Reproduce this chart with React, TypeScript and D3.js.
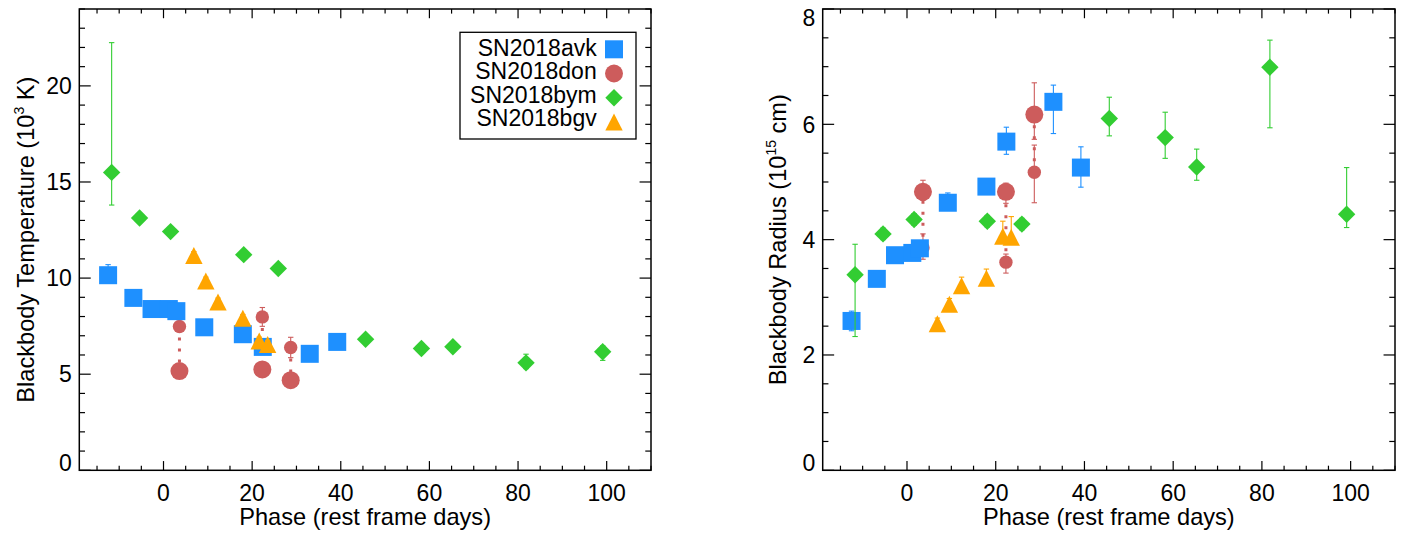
import React from "react";
import * as d3 from "d3";

// ---------- data ----------
const avkPhase = [-12.5, -6.8, -2.7, 1.2, 2.9, 9.2, 17.9, 22.4, 33.0, 39.2];
const avkTemp = [10.15, 8.97, 8.39, 8.39, 8.28, 7.44, 7.08, 6.42, 6.06, 6.68];
const avkTempUp = [0.55, 0.3, 0.3, 0.3, 0.3, 0.3, 0.3, 0.3, 0.3, 0.3];
const avkTempDn = [0.3, 0.3, 0.3, 0.3, 0.3, 0.3, 0.3, 0.3, 0.3, 0.3];
const avkRadius = [2.59, 3.32, 3.73, 3.77, 3.85, 4.64, 4.92, 5.7, 6.39, 5.25];
const avkRadUp = [0.17, 0.1, 0.08, 0.08, 0.08, 0.17, 0.1, 0.25, 0.29, 0.36];
const avkRadDn = [0.17, 0.1, 0.08, 0.08, 0.08, 0.1, 0.1, 0.22, 0.55, 0.34];

const donPhase = [3.6, 22.3, 28.7];
const donTempSmall = [7.48, 7.98, 6.39];
const donTempSmallErr = [0.2, 0.49, 0.53];
const donTempLarge = [5.16, 5.25, 4.69];
const donTempLargeErr = [0.2, 0.2, 0.2];
const donRadLarge = [4.83, 4.83, 6.17];
const donRadLargeUp = [0.2, 0.15, 0.55];
const donRadLargeDn = [0.15, 0.2, 0.43];
const donRadSmall = [3.86, 3.61, 5.17];
const donRadSmallUp = [0.24, 0.14, 0.47];
const donRadSmallDn = [0.2, 0.19, 0.53];

const bymPhase = [-11.7, -5.4, 1.6, 18.1, 25.9, 45.6, 58.2, 65.3, 81.8, 99.1];
const bymTemp = [15.5, 13.13, 12.42, 11.22, 10.5, 6.82, 6.34, 6.43, 5.59, 6.17];
const bymTempUp = [6.75, 0.2, 0.2, 0.2, 0.2, 0.2, 0.2, 0.2, 0.45, 0.3];
const bymTempDn = [1.7, 0.2, 0.2, 0.2, 0.2, 0.2, 0.2, 0.2, 0.3, 0.45];
const bymRadius = [3.39, 4.1, 4.35, 4.32, 4.27, 6.1, 5.77, 5.26, 6.99, 4.44];
const bymRadUp = [0.53, 0.1, 0.1, 0.1, 0.1, 0.37, 0.44, 0.31, 0.47, 0.81];
const bymRadDn = [1.07, 0.1, 0.1, 0.1, 0.1, 0.3, 0.36, 0.23, 1.05, 0.23];

const bgvPhase = [6.85, 9.55, 12.3, 17.9, 21.6, 23.5];
const bgvTemp = [11.18, 9.85, 8.76, 7.91, 6.73, 6.54];
const bgvTempErr = [0.2, 0.2, 0.2, 0.2, 0.2, 0.2];
const bgvRadius = [2.54, 2.88, 3.2, 3.33, 4.06, 4.04];
const bgvRadUp = [0.1, 0.1, 0.15, 0.16, 0.26, 0.36];
const bgvRadDn = [0.1, 0.1, 0.1, 0.1, 0.1, 0.1];

const legendNames = ["SN2018avk", "SN2018don", "SN2018bym", "SN2018bgv"];
const xMajorTicks = [0, 20, 40, 60, 80, 100];
const tempMajorTicks = [0, 5, 10, 15, 20];
const radMajorTicks = [0, 2, 4, 6, 8];

const BLUE = "#1E90FF";
const RED = "#CD5C5C";
const GREEN = "#32CD32";
const ORANGE = "#FFA500";
const FONT = "'Liberation Sans', Arial, Helvetica, sans-serif";

type Shape = "square" | "circle" | "smallcircle" | "diamond" | "triangle";

function Marker({ shape, x, y, color }: { shape: Shape; x: number; y: number; color: string }) {
  if (shape === "square") return <rect x={x - 9} y={y - 9} width={18} height={18} fill={color} />;
  if (shape === "circle") return <circle cx={x} cy={y} r={9} fill={color} />;
  if (shape === "smallcircle") return <circle cx={x} cy={y} r={6.7} fill={color} />;
  if (shape === "diamond")
    return <path d={`M${x},${y - 8.7}L${x + 8.7},${y}L${x},${y + 8.7}L${x - 8.7},${y}Z`} fill={color} />;
  return <path d={`M${x},${y - 8.5}L${x + 8.7},${y + 8.5}L${x - 8.7},${y + 8.5}Z`} fill={color} />;
}

function ErrBar({ x, y1, y2, color }: { x: number; y1: number; y2: number; color: string }) {
  return (
    <g stroke={color} strokeWidth={1.1}>
      <line x1={x} x2={x} y1={y1} y2={y2} />
      <line x1={x - 2.7} x2={x + 2.7} y1={y1} y2={y1} />
      <line x1={x - 2.7} x2={x + 2.7} y1={y2} y2={y2} />
    </g>
  );
}

interface Series {
  phase: number[];
  val: number[];
  up: number[];
  dn: number[];
  shape: Shape;
  color: string;
}

interface PanelProps {
  left: number;
  right: number;
  yMax: number;
  yMajor: number[];
  yMinorStep: number;
  titleX: number;
  titleMain: string;
  titleSup: string;
  titleEnd: string;
  pairs: { phase: number[]; a: number[]; b: number[] };
  series: Series[];
  legend?: boolean;
}

const TOP = 9;
const BOTTOM = 470.3;

function Panel(p: PanelProps) {
  const x = d3.scaleLinear().domain([-19, 110]).range([p.left, p.right]);
  const y = d3.scaleLinear().domain([0, p.yMax]).range([BOTTOM, TOP]);
  const xMinor = d3.range(-15, 111, 5).filter((v) => !xMajorTicks.includes(v));
  const yMinor = d3.range(0, p.yMax + 1e-6, p.yMinorStep).filter((v) => !p.yMajor.some((m) => Math.abs(m - v) < 1e-6));
  const w = p.right - p.left;
  const h = BOTTOM - TOP;
  const xl = 0.02 * h;
  const yl = 0.02 * w;
  const cx = (p.left + p.right) / 2;
  const cy = (TOP + BOTTOM) / 2;
  return (
    <g>
      <rect x={p.left} y={TOP} width={w} height={h} fill="none" stroke="#000" strokeWidth={1.5} />
      <g stroke="#000" strokeWidth={1.2}>
        {xMajorTicks.map((t) => (
          <g key={"xM" + t}>
            <line x1={x(t)} x2={x(t)} y1={BOTTOM} y2={BOTTOM - xl} />
            <line x1={x(t)} x2={x(t)} y1={TOP} y2={TOP + xl} />
          </g>
        ))}
        {xMinor.map((t) => (
          <g key={"xm" + t}>
            <line x1={x(t)} x2={x(t)} y1={BOTTOM} y2={BOTTOM - xl / 2} />
            <line x1={x(t)} x2={x(t)} y1={TOP} y2={TOP + xl / 2} />
          </g>
        ))}
        {p.yMajor.map((t) => (
          <g key={"yM" + t}>
            <line x1={p.left} x2={p.left + yl} y1={y(t)} y2={y(t)} />
            <line x1={p.right} x2={p.right - yl} y1={y(t)} y2={y(t)} />
          </g>
        ))}
        {yMinor.map((t) => (
          <g key={"ym" + t}>
            <line x1={p.left} x2={p.left + yl / 2} y1={y(t)} y2={y(t)} />
            <line x1={p.right} x2={p.right - yl / 2} y1={y(t)} y2={y(t)} />
          </g>
        ))}
      </g>
      <g fontFamily={FONT} fontSize={23} fill="#000">
        {xMajorTicks.map((t) => (
          <text key={"xt" + t} x={x(t)} y={501} textAnchor="middle">
            {t}
          </text>
        ))}
        {p.yMajor.map((t) => {
          const b = Math.min(Math.max(y(t) + 8.3, TOP + 16.6), BOTTOM + 0.4);
          return (
            <text key={"yt" + t} x={p.left - 7.5} y={b} textAnchor="end">
              {t}
            </text>
          );
        })}
        <text x={cx} y={525} textAnchor="middle" fontSize={23.6}>
          Phase (rest frame days)
        </text>
        <text transform={`translate(${p.titleX},${cy}) rotate(-90)`} textAnchor="middle" fontSize={23.6}>
          {p.titleMain}
          <tspan fontSize={14} dy={-10}>
            {p.titleSup}
          </tspan>
          <tspan dy={10}>{p.titleEnd}</tspan>
        </text>
      </g>
      {p.pairs.phase.map((ph, i) => (
        <line
          key={"pd" + i}
          x1={x(ph)}
          x2={x(ph)}
          y1={y(p.pairs.a[i])}
          y2={y(p.pairs.b[i])}
          stroke={RED}
          strokeWidth={3}
          strokeDasharray="3 8"
        />
      ))}
      {p.series.map((s, si) => (
        <g key={"s" + si}>
          {s.phase.map((ph, i) => (
            <ErrBar key={"e" + i} x={x(ph)} y1={y(s.val[i] + s.up[i])} y2={y(s.val[i] - s.dn[i])} color={s.color} />
          ))}
          {s.phase.map((ph, i) => (
            <Marker key={"m" + i} shape={s.shape} x={x(ph)} y={y(s.val[i])} color={s.color} />
          ))}
        </g>
      ))}
      {p.legend && (
        <g>
          <rect x={460} y={32.3} width={176} height={106.7} fill="#fff" stroke="#000" strokeWidth={1.3} />
          {legendNames.map((n, i) => (
            <g key={n}>
              <text x={596.7} y={56 + i * 23.4} textAnchor="end" fontFamily={FONT} fontSize={23}>
                {n}
              </text>
              <Marker
                shape={(["square", "circle", "diamond", "triangle"] as Shape[])[i]}
                x={614}
                y={49.3 + i * 24.2}
                color={[BLUE, RED, GREEN, ORANGE][i]}
              />
            </g>
          ))}
        </g>
      )}
    </g>
  );
}

export default function App() {
  const tempSeries: Series[] = [
    { phase: donPhase, val: donTempSmall, up: donTempSmallErr, dn: donTempSmallErr, shape: "smallcircle", color: RED },
    { phase: donPhase, val: donTempLarge, up: donTempLargeErr, dn: donTempLargeErr, shape: "circle", color: RED },
    { phase: avkPhase, val: avkTemp, up: avkTempUp, dn: avkTempDn, shape: "square", color: BLUE },
    { phase: bymPhase, val: bymTemp, up: bymTempUp, dn: bymTempDn, shape: "diamond", color: GREEN },
    { phase: bgvPhase, val: bgvTemp, up: bgvTempErr, dn: bgvTempErr, shape: "triangle", color: ORANGE },
  ];
  const radSeries: Series[] = [
    { phase: donPhase, val: donRadSmall, up: donRadSmallUp, dn: donRadSmallDn, shape: "smallcircle", color: RED },
    { phase: donPhase, val: donRadLarge, up: donRadLargeUp, dn: donRadLargeDn, shape: "circle", color: RED },
    { phase: avkPhase, val: avkRadius, up: avkRadUp, dn: avkRadDn, shape: "square", color: BLUE },
    { phase: bymPhase, val: bymRadius, up: bymRadUp, dn: bymRadDn, shape: "diamond", color: GREEN },
    { phase: bgvPhase, val: bgvRadius, up: bgvRadUp, dn: bgvRadDn, shape: "triangle", color: ORANGE },
  ];
  return (
    <svg
      width={1417}
      height={533}
      style={{ position: "absolute", left: 0, top: 0, background: "#fff" }}
      xmlns="http://www.w3.org/2000/svg"
    >
      <rect width={1417} height={533} fill="#fff" />
      <Panel
        left={79.3}
        right={651}
        yMax={24}
        yMajor={tempMajorTicks}
        yMinorStep={1}
        titleX={33.5}
        titleMain="Blackbody Temperature (10"
        titleSup="3"
        titleEnd=" K)"
        pairs={{ phase: donPhase, a: donTempSmall, b: donTempLarge }}
        series={tempSeries}
        legend
      />
      <Panel
        left={822.7}
        right={1395}
        yMax={8}
        yMajor={radMajorTicks}
        yMinorStep={0.5}
        titleX={786.3}
        titleMain="Blackbody Radius (10"
        titleSup="15"
        titleEnd=" cm)"
        pairs={{ phase: donPhase, a: donRadSmall, b: donRadLarge }}
        series={radSeries}
      />
    </svg>
  );
}
